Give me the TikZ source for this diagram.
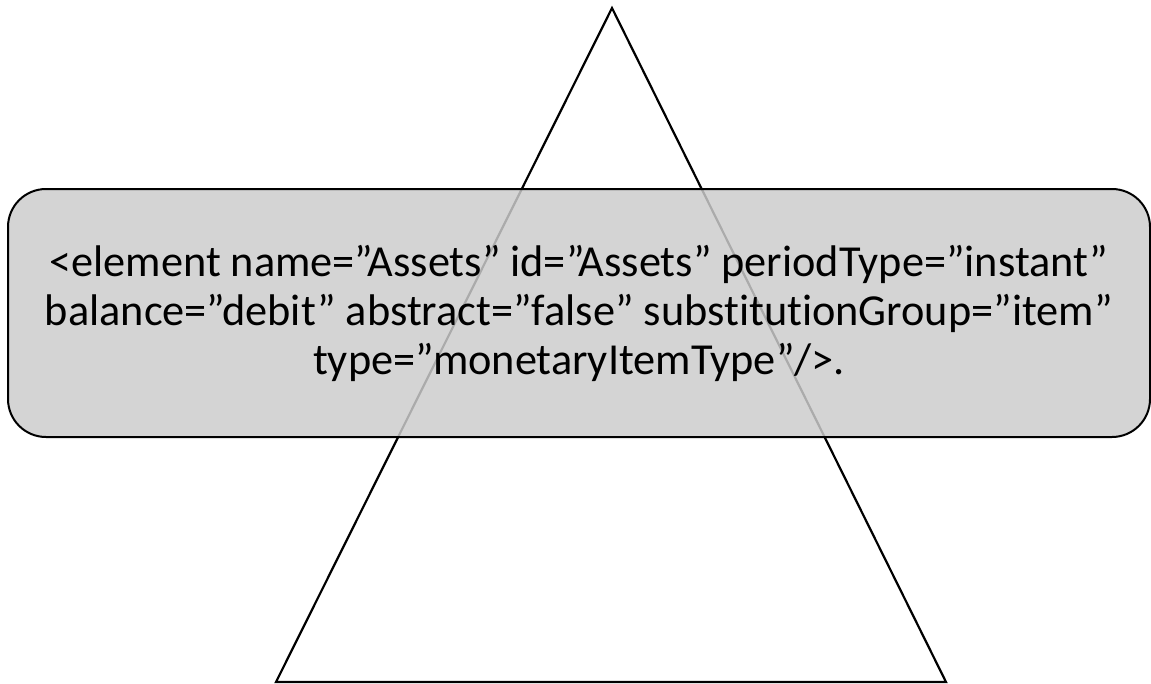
\documentclass[tikz,border=0pt]{standalone}
\usepackage{fontspec}
\setmainfont[Ligatures=NoCommon]{Carlito}
\begin{document}
\begin{tikzpicture}[x=1pt,y=-1pt,
  outline/.style={draw=black,line width=2.2pt,line join=miter},
  panel/.style={draw=black,line width=2pt,fill={rgb,255:red,204;green,204;blue,204},
    fill opacity=0.84,text opacity=1,rounded corners=38pt,
    minimum width=1142pt,minimum height=248pt,inner sep=0pt,
    align=center,font=\fontsize{44.3pt}{49pt}\selectfont}]
  \useasboundingbox (0,0) rectangle (1151,683);
  % triangle behind the panel
  \coordinate (apex) at (612,8);
  \coordinate (bl) at (276,682);
  \coordinate (br) at (946,682);
  \draw[outline] (apex) -- (bl) -- (br) -- cycle;
  % element declaration panel
  \node[panel] (decl) at (579,313)
    {<element name=”Assets” id=”Assets” periodType=”instant”\\
     balance=”debit” abstract=”false” substitutionGroup=”item”\\
     type=”monetaryItemType”/>.};
\end{tikzpicture}
\end{document}
